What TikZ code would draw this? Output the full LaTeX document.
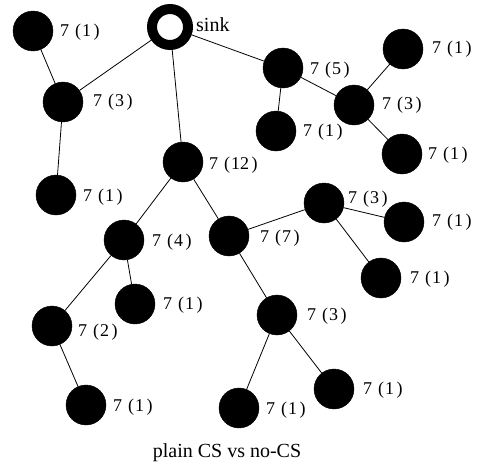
\documentclass[tikz,border=0pt]{standalone}
\usepackage{fontspec}
\setmainfont{Liberation Serif}
\newcommand{\lbl}[1]{7\hspace{6pt}(\hspace{1pt}#1\hspace{2.5pt})}
\begin{document}
\begin{tikzpicture}[x=1pt,y=-1pt,
  dot/.style={circle,fill=black,draw=black,minimum size=40pt,inner sep=0pt},
  ring/.style={circle,draw=black,line width=10pt,fill=white,minimum size=36pt,inner sep=0pt},
  tag/.style={anchor=west,inner sep=0pt,font=\fontsize{18}{21}\selectfont},
  edge/.style={line width=0.8pt}]
\useasboundingbox (0,0) rectangle (487,466);
\node[ring] (sink) at (170,27) {};
\node[dot] (A) at (33,31) {};
\node[dot] (B) at (63,102) {};
\node[dot] (C) at (56,195) {};
\node[dot] (D) at (183,162) {};
\node[dot] (E) at (283,68) {};
\node[dot] (F) at (276,131) {};
\node[dot] (G) at (354,105) {};
\node[dot] (H) at (403,49) {};
\node[dot] (I) at (402,154) {};
\node[dot] (J) at (124,240) {};
\node[dot] (K) at (229,236) {};
\node[dot] (L) at (324,203) {};
\node[dot] (M) at (404,222) {};
\node[dot] (N) at (381,278) {};
\node[dot] (O) at (135,304) {};
\node[dot] (P) at (52,326) {};
\node[dot] (Q) at (86,405) {};
\node[dot] (R) at (277,315) {};
\node[dot] (S) at (334,389) {};
\node[dot] (T) at (239,408) {};
\draw[edge] (sink) -- (B);
\draw[edge] (sink) -- (E);
\draw[edge] (sink) -- (D);
\draw[edge] (A) -- (B);
\draw[edge] (B) -- (C);
\draw[edge] (E) -- (F);
\draw[edge] (E) -- (G);
\draw[edge] (G) -- (H);
\draw[edge] (G) -- (I);
\draw[edge] (D) -- (J);
\draw[edge] (D) -- (K);
\draw[edge] (J) -- (O);
\draw[edge] (J) -- (P);
\draw[edge] (P) -- (Q);
\draw[edge] (K) -- (L);
\draw[edge] (K) -- (R);
\draw[edge] (L) -- (M);
\draw[edge] (L) -- (N);
\draw[edge] (R) -- (T);
\draw[edge] (R) -- (S);
\node[tag,font=\fontsize{20}{24}\selectfont] (tsink) at (196,25) {sink};
\node[tag] (tA) at (60,32) {\lbl{1}};
\node[tag] (tB) at (93,102) {\lbl{3}};
\node[tag] (tC) at (83,197) {\lbl{1}};
\node[tag] (tD) at (209,165) {\lbl{12}};
\node[tag] (tE) at (310,70) {\lbl{5}};
\node[tag] (tF) at (303,132) {\lbl{1}};
\node[tag] (tG) at (382,105) {\lbl{3}};
\node[tag] (tH) at (432,49) {\lbl{1}};
\node[tag] (tI) at (428,155) {\lbl{1}};
\node[tag] (tJ) at (152,242) {\lbl{4}};
\node[tag] (tK) at (260,238) {\lbl{7}};
\node[tag] (tL) at (348,199) {\lbl{3}};
\node[tag] (tM) at (432,222) {\lbl{1}};
\node[tag] (tN) at (410,279) {\lbl{1}};
\node[tag] (tO) at (163,305) {\lbl{1}};
\node[tag] (tP) at (78,332) {\lbl{2}};
\node[tag] (tQ) at (113,407) {\lbl{1}};
\node[tag] (tR) at (307,316) {\lbl{3}};
\node[tag] (tS) at (363,390) {\lbl{1}};
\node[tag] (tT) at (266,410) {\lbl{1}};
\node[tag,anchor=center,font=\fontsize{20}{24}\selectfont] (cap) at (227,453) {plain CS vs no-CS};
\end{tikzpicture}
\end{document}
